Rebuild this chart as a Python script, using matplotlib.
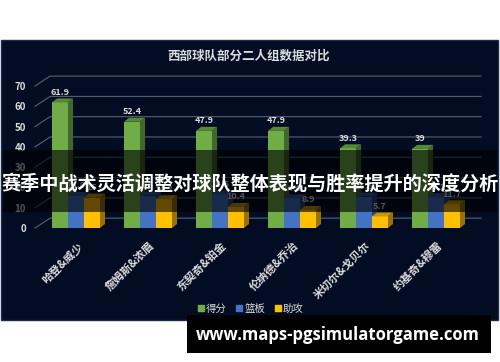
import matplotlib.pyplot as plt
from matplotlib.patches import Rectangle, Polygon
from matplotlib.lines import Line2D
from matplotlib.colors import to_rgb

plt.rcParams['font.family'] = ['Noto Sans CJK SC', 'DejaVu Sans']

# 数据
players = ['哈登&威少', '詹姆斯&浓眉', '东契奇&铂金', '伦纳德&乔治', '米切尔&戈贝尔', '约基奇&穆雷']
points = [61.9, 52.4, 47.9, 47.9, 39.3, 39]
rebounds = [15.8, 16.0, 16.6, 14.6, 15.5, 15.2]
assists = [15.0, 14.2, 10.4, 8.9, 5.7, 11.7]
series_names = ['得分', '篮板', '助攻']
colors = ['#70ad47', '#4472c4', '#ffc000']
yticks = [0, 10, 20, 30, 40, 50, 60, 70]

bg = '#020c22'
txt = '#dcdcdc'


def shade(c, f):
    r, g, b = to_rgb(c)
    return (r * f, g * f, b * f)


fig = plt.figure(figsize=(5, 3.62), dpi=100)
fig.patch.set_facecolor('white')

# 深色图表区域
fig.patches.append(Rectangle((0.002, 1 - 320 / 362), 0.994, 280 / 362, transform=fig.transFigure,
                             facecolor=bg, edgecolor='#1c2c4c', lw=1.0, zorder=-1))

ax = fig.add_axes([0.08, 0.370, 0.864, 0.3923])
ax.set_zorder(1)
ax.set_facecolor('none')
ax.set_xlim(-0.5, 5.5)
ax.set_ylim(0, 70)
for s in ax.spines.values():
    s.set_visible(False)

# 3D 背景网格线
wall_dy = 4.9
x_fl, x_bl, x_br = -0.57, -0.36, 5.625
for v in yticks:
    ax.plot([x_fl, x_bl, x_br], [v, v + wall_dy, v + wall_dy], color='#5a6270', lw=0.8,
            clip_on=False, zorder=1)

# 柱子
w = 0.222
dx, dy = 0.07, 2.0
all_series = [points, rebounds, assists]
for i in range(len(players)):
    for k, vals in enumerate(all_series):
        v = vals[i]
        x0 = i + (k - 1) * w - w / 2
        c = colors[k]
        ax.add_patch(Rectangle((x0, 0), w, v, facecolor=c, edgecolor='none', zorder=3))
        ax.add_patch(Polygon([(x0 + w, 0), (x0 + w + dx, dy), (x0 + w + dx, v + dy), (x0 + w, v)],
                             closed=True, facecolor=shade(c, 0.6), edgecolor='none', zorder=3,
                             clip_on=False))
        ax.add_patch(Polygon([(x0, v), (x0 + dx, v + dy), (x0 + w + dx, v + dy), (x0 + w, v)],
                             closed=True, facecolor=shade(c, 0.78), edgecolor='none', zorder=3,
                             clip_on=False))
        ax.text(x0 + w / 2, v + dy + 0.8, f'{v:g}', ha='center', va='bottom', color=txt,
                fontsize=6.5, fontweight='bold', zorder=4, clip_on=False)

ax.set_yticks(yticks)
ax.set_yticklabels([str(t) for t in yticks], color=txt, fontsize=7, fontweight='bold')
ax.set_xticks(range(len(players)))
ax.set_xticklabels(players, rotation=45, ha='right', va='top', rotation_mode='anchor',
                   color=txt, fontsize=8, fontweight='bold')
ax.tick_params(axis='y', length=0, pad=10)
ax.tick_params(axis='x', length=0, pad=8)

fig.text(0.498, 1 - 56 / 362, '西部球队部分二人组数据对比', ha='center', va='center',
         color=txt, fontsize=9, fontweight='bold')

handles = [Line2D([], [], marker='s', ls='none', color=c, markersize=5) for c in colors]
fig.legend(handles, series_names, loc='center', bbox_to_anchor=(0.5, 1 - 309 / 362), ncol=3,
           frameon=False, fontsize=7.5, labelcolor=txt, handletextpad=0.1, columnspacing=0.8,
           handlelength=0.8)

# 横幅
fig.patches.append(Rectangle((0.006, 1 - 212 / 362), 0.988, 62 / 362, transform=fig.transFigure,
                             facecolor='black', alpha=0.62, edgecolor='none', zorder=5))
fig.text(0.5, 1 - 184 / 362, '赛季中战术灵活调整对球队整体表现与胜率提升的深度分析',
         ha='center', va='center', color='white', fontsize=13.8, fontweight='bold', zorder=6)

# 水印
fig.patches.append(Rectangle((187 / 500, 1 - 353 / 362), 304 / 500, 38 / 362,
                             transform=fig.transFigure, facecolor='black', edgecolor='none',
                             zorder=7))
fig.text(338 / 500, 1 - 335 / 362, 'www.maps-pgsimulatorgame.com', ha='center', va='center',
         color='white', fontsize=12, fontweight='bold', family='Open Sans', zorder=8)

fig.savefig('out.png', dpi=100)
